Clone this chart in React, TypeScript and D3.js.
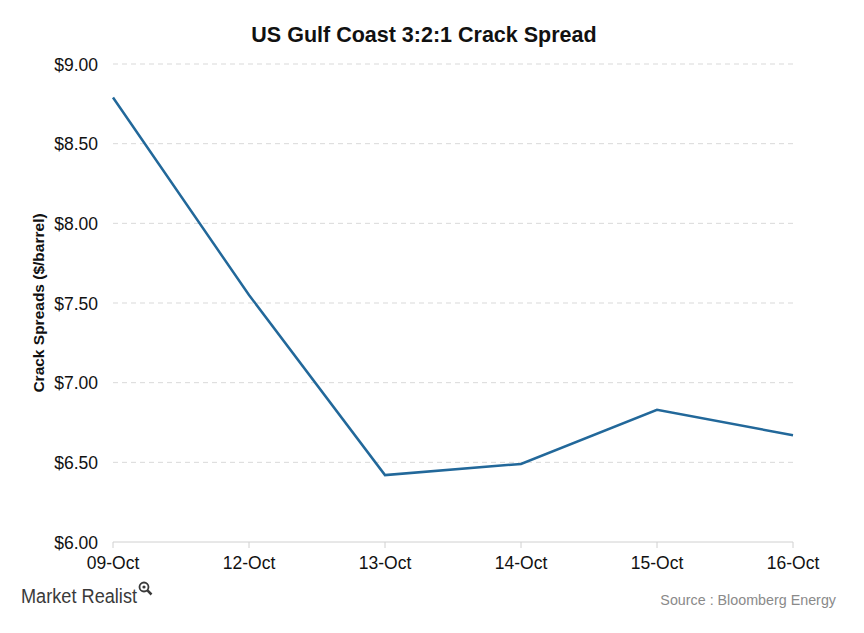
import React from "react";
import * as d3 from "d3";

const categories = ["09-Oct", "12-Oct", "13-Oct", "14-Oct", "15-Oct", "16-Oct"];
const values = [8.79, 7.55, 6.42, 6.49, 6.83, 6.67];
const yTicks = [6.0, 6.5, 7.0, 7.5, 8.0, 8.5, 9.0];

const W = 864;
const H = 633;
const left = 113;
const right = 793;
const top = 64;
const bottom = 542;
const font = "'Liberation Sans', Arial, sans-serif";

export default function App() {
  const x = d3.scalePoint<string>().domain(categories).range([left, right]);
  const y = d3.scaleLinear().domain([6, 9]).range([bottom, top]);
  const line = d3
    .line<number>()
    .x((_, i) => x(categories[i]) as number)
    .y((d) => y(d));

  return (
    <svg
      width={W}
      height={H}
      style={{ position: "absolute", left: 0, top: 0, background: "#fff" }}
      fontFamily={font}
    >
      <rect width={W} height={H} fill="#fff" />
      <text x={424} y={42} textAnchor="middle" fontSize={21.5} fontWeight="bold" fill="#111">
        US Gulf Coast 3:2:1 Crack Spread
      </text>
      {yTicks.map((t) => (
        <g key={t}>
          {t > 6 && (
            <line
              x1={left}
              x2={right}
              y1={y(t)}
              y2={y(t)}
              stroke="#d9d9d9"
              strokeDasharray="5,4"
              strokeWidth={1}
            />
          )}
          <text x={98} y={y(t) + 6.5} textAnchor="end" fontSize={17.5} fill="#111">
            {"$" + t.toFixed(2)}
          </text>
        </g>
      ))}
      <line x1={left} x2={right} y1={bottom} y2={bottom} stroke="#d0d0d0" strokeWidth={1} />
      {categories.map((c) => (
        <g key={c}>
          <line
            x1={x(c)}
            x2={x(c)}
            y1={bottom}
            y2={bottom + 6}
            stroke="#d0d0d0"
            strokeWidth={1}
          />
          <text x={x(c)} y={bottom + 27} textAnchor="middle" fontSize={17.5} fill="#111">
            {c}
          </text>
        </g>
      ))}
      <text
        transform={`translate(44,303) rotate(-90)`}
        textAnchor="middle"
        fontSize={15.5}
        fontWeight="bold"
        fill="#111"
      >
        Crack Spreads ($/barrel)
      </text>
      <path d={line(values) || ""} fill="none" stroke="#22689a" strokeWidth={2.5} />
      <text x={21} y={603} fontSize={20} fill="#3a3a3a" textLength={116} lengthAdjust="spacingAndGlyphs">
        Market Realist
      </text>
      <g transform="translate(144,587)" stroke="#3a3a3a" fill="none" strokeWidth={1.8}>
        <circle cx={0} cy={0} r={4.5} />
        <line x1={3.2} y1={3.2} x2={7.5} y2={7.5} strokeWidth={2.5} />
        <circle cx={0} cy={0} r={1.6} fill="#3a3a3a" stroke="none" />
      </g>
      <text x={836} y={605} textAnchor="end" fontSize={14.3} fill="#8a8a8a">
        Source : Bloomberg Energy
      </text>
    </svg>
  );
}
